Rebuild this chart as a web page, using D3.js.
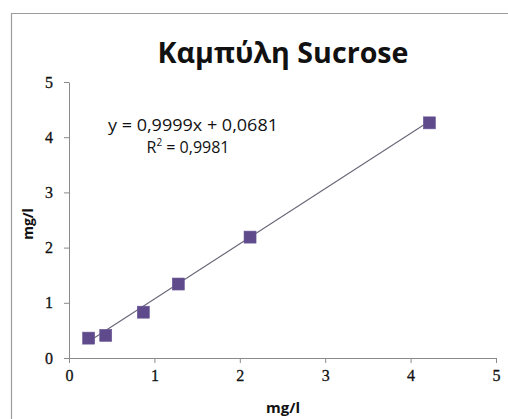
<!DOCTYPE html>
<html>
<head>
<meta charset="utf-8">
<script src="https://cdn.jsdelivr.net/npm/d3@7"></script>
<style>
  html, body { margin: 0; padding: 0; background: #fff; }
  svg { display: block; }
</style>
</head>
<body>
<script>
// Calibration data: sucrose concentration vs. measured value (mg/l)
const concentration = [0.23, 0.43, 0.87, 1.28, 2.12, 4.22];
const measured      = [0.36, 0.41, 0.83, 1.34, 2.19, 4.26];
const xTicks = [0, 1, 2, 3, 4, 5];
const yTicks = [0, 1, 2, 3, 4, 5];
// Linear fit reported on the chart
const fitSlope = [0.9999];
const fitIntercept = [0.0681];
const fitR2 = [0.9981];

const W = 508, H = 419;
const svg = d3.select("body").append("svg").attr("width", W).attr("height", H);

// chart frame (left and top edges visible)
svg.append("path")
  .attr("d", `M11.5,${H} V13.5 H${W}`)
  .attr("fill", "none").attr("stroke", "#9c9c9c").attr("stroke-width", 1.2);

const x = d3.scaleLinear().domain([0, 5]).range([69, 496]);
const y = d3.scaleLinear().domain([0, 5]).range([358, 82]);

const fmt = d => d3.format(".4f")(d).replace(".", ",");

// axes
const xAxis = svg.append("g").attr("transform", `translate(0,${y(0)})`)
  .call(d3.axisBottom(x).tickValues(xTicks).tickSize(5).tickSizeOuter(0).tickFormat(d3.format("d")));
const yAxis = svg.append("g").attr("transform", `translate(${x(0)},0)`)
  .call(d3.axisLeft(y).tickValues(yTicks).tickSize(5).tickSizeOuter(0).tickFormat(d3.format("d")));

[xAxis, yAxis].forEach(g => {
  g.selectAll("path.domain, line").attr("stroke", "#8a8a8a").attr("stroke-width", 1);
  g.selectAll("text").attr("fill", "#111")
    .attr("stroke", "#111").attr("stroke-width", 0.3)
    .style("font-family", "'Liberation Serif', 'DejaVu Serif', serif")
    .style("font-size", "16px");
});
xAxis.selectAll("text").attr("y", 12);
yAxis.selectAll("text").attr("x", -16);

// trendline over the data range
const xMin = d3.min(concentration), xMax = d3.max(concentration);
svg.append("line")
  .attr("x1", x(xMin)).attr("y1", y(fitSlope[0] * xMin + fitIntercept[0]))
  .attr("x2", x(xMax)).attr("y2", y(fitSlope[0] * xMax + fitIntercept[0]))
  .attr("stroke", "#6a6578").attr("stroke-width", 1.1);

// square markers
const ms = 12;
svg.append("g").selectAll("rect")
  .data(concentration.map((c, i) => [c, measured[i]]))
  .join("rect")
  .attr("x", d => x(d[0]) - ms / 2)
  .attr("y", d => y(d[1]) - ms / 2)
  .attr("width", ms).attr("height", ms)
  .attr("fill", "#5f4a8b")
  .attr("stroke", "#6a5796").attr("stroke-width", 0.6);

// title
svg.append("text")
  .attr("x", 283).attr("y", 63)
  .attr("text-anchor", "middle")
  .attr("textLength", 251).attr("lengthAdjust", "spacingAndGlyphs")
  .style("font-family", "'Open Sans', 'Noto Sans', sans-serif")
  .style("font-weight", "bold").style("font-size", "29px").attr("fill", "#111")
  .text("Καμπύλη Sucrose");

// fit equation
const eqFont = "'Open Sans', 'Noto Sans', sans-serif";
svg.append("text")
  .attr("x", 193).attr("y", 131)
  .attr("text-anchor", "middle")
  .attr("textLength", 170).attr("lengthAdjust", "spacingAndGlyphs")
  .style("font-family", eqFont).style("font-size", "17px").attr("fill", "#111")
  .text(`y = ${fmt(fitSlope[0])}x + ${fmt(fitIntercept[0])}`);

const r2 = svg.append("text")
  .attr("x", 188).attr("y", 153)
  .attr("text-anchor", "middle")
  .style("font-family", eqFont).style("font-size", "16px").attr("fill", "#111");
r2.append("tspan").text("R");
r2.append("tspan").attr("dy", -7).style("font-size", "10px").text("2");
r2.append("tspan").attr("dy", 7).text(` = ${fmt(fitR2[0])}`);

// axis titles
svg.append("text")
  .attr("x", 283).attr("y", 413)
  .attr("text-anchor", "middle")
  .style("font-family", "'Open Sans', 'Noto Sans', sans-serif")
  .style("font-weight", "bold").style("font-size", "15px").attr("fill", "#111")
  .text("mg/l");

svg.append("text")
  .attr("transform", "translate(33,224) rotate(-90)")
  .attr("text-anchor", "middle")
  .style("font-family", "'Open Sans', 'Noto Sans', sans-serif")
  .style("font-weight", "bold").style("font-size", "14px").attr("fill", "#111")
  .text("mg/l");
</script>
</body>
</html>
